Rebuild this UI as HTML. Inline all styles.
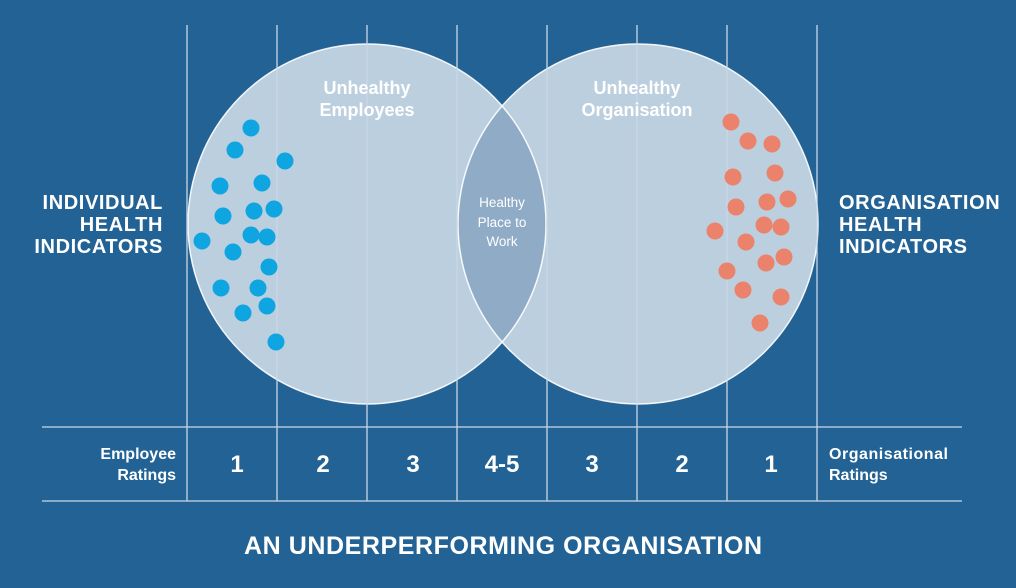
<!DOCTYPE html>
<html><head><meta charset="utf-8"><style>
html,body{margin:0;padding:0;background:#226295;}
svg{display:block;}
text{font-family:"Liberation Sans",sans-serif;fill:#fff;}
</style></head><body>
<svg width="1016" height="588" viewBox="0 0 1016 588" xmlns="http://www.w3.org/2000/svg">
<rect width="1016" height="588" fill="#226295"/>
<defs>
<clipPath id="cl"><ellipse cx="367" cy="224" rx="179" ry="180"/></clipPath>
</defs>
<ellipse cx="367" cy="224" rx="179" ry="180" fill="#bccfdf"/>
<ellipse cx="638" cy="224" rx="180" ry="180" fill="#bccfdf"/>
<ellipse cx="638" cy="224" rx="180" ry="180" fill="#8fabc6" clip-path="url(#cl)"/>
<ellipse cx="367" cy="224" rx="179" ry="180" fill="none" stroke="#fff" stroke-width="1.5" opacity="0.9"/>
<ellipse cx="638" cy="224" rx="180" ry="180" fill="none" stroke="#fff" stroke-width="1.5" opacity="0.9"/>
<g stroke="#c9d8e6" stroke-width="1.3">
<line x1="187" y1="25" x2="187" y2="501"/>
<line x1="277" y1="25" x2="277" y2="501"/>
<line x1="367" y1="25" x2="367" y2="501"/>
<line x1="457" y1="25" x2="457" y2="501"/>
<line x1="547" y1="25" x2="547" y2="501"/>
<line x1="637" y1="25" x2="637" y2="501"/>
<line x1="727" y1="25" x2="727" y2="501"/>
<line x1="817" y1="25" x2="817" y2="501"/>
<line x1="42" y1="427" x2="962" y2="427"/>
<line x1="42" y1="501" x2="962" y2="501"/>
</g>
<g fill="#0fa5e0">
<circle cx="251" cy="128" r="8.5"/><circle cx="235" cy="150" r="8.5"/><circle cx="285" cy="161" r="8.5"/>
<circle cx="220" cy="186" r="8.5"/><circle cx="262" cy="183" r="8.5"/><circle cx="223" cy="216" r="8.5"/>
<circle cx="254" cy="211" r="8.5"/><circle cx="274" cy="209" r="8.5"/><circle cx="202" cy="241" r="8.5"/>
<circle cx="233" cy="252" r="8.5"/><circle cx="251" cy="235" r="8.5"/><circle cx="267" cy="237" r="8.5"/>
<circle cx="269" cy="267" r="8.5"/><circle cx="221" cy="288" r="8.5"/><circle cx="258" cy="288" r="8.5"/>
<circle cx="243" cy="313" r="8.5"/><circle cx="267" cy="306" r="8.5"/><circle cx="276" cy="342" r="8.5"/>
</g>
<g fill="#ea826c">
<circle cx="731" cy="122" r="8.5"/><circle cx="748" cy="141" r="8.5"/><circle cx="772" cy="144" r="8.5"/>
<circle cx="733" cy="177" r="8.5"/><circle cx="775" cy="173" r="8.5"/><circle cx="736" cy="207" r="8.5"/>
<circle cx="767" cy="202" r="8.5"/><circle cx="788" cy="199" r="8.5"/><circle cx="715" cy="231" r="8.5"/>
<circle cx="764" cy="225" r="8.5"/><circle cx="781" cy="227" r="8.5"/><circle cx="746" cy="242" r="8.5"/>
<circle cx="784" cy="257" r="8.5"/><circle cx="727" cy="271" r="8.5"/><circle cx="766" cy="263" r="8.5"/>
<circle cx="743" cy="290" r="8.5"/><circle cx="781" cy="297" r="8.5"/><circle cx="760" cy="323" r="8.5"/>
</g>
<g font-size="18" text-anchor="middle" font-weight="600">
<text x="367" y="94">Unhealthy</text><text x="367" y="116">Employees</text>
<text x="637" y="94">Unhealthy</text><text x="637" y="116">Organisation</text>
</g>
<g font-size="13.5" text-anchor="middle">
<text x="502" y="207">Healthy</text><text x="502" y="227">Place to</text><text x="502" y="246">Work</text>
</g>
<g font-size="20" font-weight="bold" letter-spacing="0.6">
<text x="163" y="209" text-anchor="end">INDIVIDUAL</text>
<text x="163" y="231" text-anchor="end">HEALTH</text>
<text x="163" y="253" text-anchor="end">INDICATORS</text>
<text x="839" y="209">ORGANISATION</text>
<text x="839" y="231">HEALTH</text>
<text x="839" y="253">INDICATORS</text>
</g>
<g font-size="16" font-weight="bold">
<text x="176" y="459" text-anchor="end">Employee</text>
<text x="176" y="480" text-anchor="end">Ratings</text>
<text x="829" y="459" textLength="119">Organisational</text>
<text x="829" y="480">Ratings</text>
</g>
<g font-size="24" font-weight="bold" text-anchor="middle">
<text x="237" y="472">1</text><text x="323" y="472">2</text><text x="413" y="472">3</text>
<text x="502" y="472">4-5</text><text x="592" y="472">3</text><text x="682" y="472">2</text><text x="771" y="472">1</text>
</g>
<text x="503" y="554" font-size="25" font-weight="bold" text-anchor="middle" textLength="518">AN UNDERPERFORMING ORGANISATION</text>
</svg>
</body></html>
